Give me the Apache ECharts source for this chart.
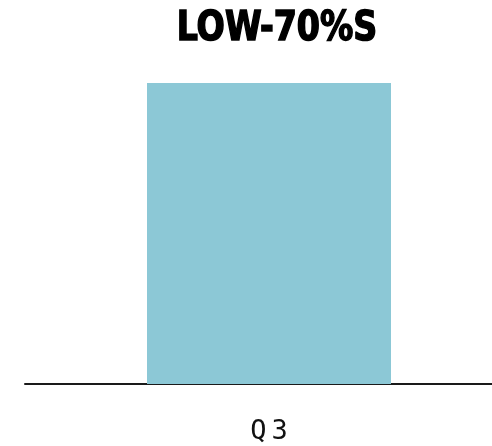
<!DOCTYPE html>
<html>
<head>
<meta charset="utf-8">
<script src="https://cdn.jsdelivr.net/npm/echarts@6/dist/echarts.min.js"></script>
<style>
  html, body { margin: 0; padding: 0; background: #fff; }
  #chart { width: 492px; height: 446px; }
</style>
</head>
<body>
<div id="chart"></div>
<script>
// Single quarter bar with a bold headline
const titleText = 'LOW-70%S';
const categories = ['Q3'];
const values = [72];

const chart = echarts.init(document.getElementById('chart'), null, { renderer: 'canvas' });

chart.setOption({
  animation: false,
  backgroundColor: '#ffffff',
  // Headline drawn as a horizontally condensed, extra-heavy text
  graphic: [{
    type: 'text',
    x: 277,
    y: 29,
    scaleX: 0.84,
    scaleY: 0.94,
    style: {
      text: titleText,
      font: '900 44px "DejaVu Sans Condensed", "DejaVu Sans", sans-serif',
      fill: '#000000',
      stroke: '#000000',
      lineWidth: 1.6,
      align: 'center',
      verticalAlign: 'middle'
    }
  }],
  // plot area runs past the right edge; the axis line is clipped by the canvas
  grid: { left: 25, width: 488, top: 83, bottom: 62, outerBoundsMode: 'none', containLabel: false },
  xAxis: {
    type: 'category',
    data: categories,
    axisLine: { show: true, lineStyle: { color: '#1a1a1a', width: 2 } },
    axisTick: { show: false },
    axisLabel: {
      margin: 34,
      formatter: function (v) {
        return '{a|' + v.charAt(0) + '}{b|' + v.slice(1) + '}';
      },
      rich: {
        a: { fontFamily: '"DejaVu Sans Mono", monospace', fontSize: 27, color: '#111', padding: [0, 5, 0, 0] },
        b: { fontFamily: '"DejaVu Sans Mono", monospace', fontSize: 27, color: '#111' }
      }
    }
  },
  yAxis: {
    type: 'value',
    min: 0,
    max: 'dataMax',
    show: false,
    splitLine: { show: false }
  },
  series: [{
    type: 'bar',
    data: values,
    barWidth: 244,
    itemStyle: { color: '#8cc8d6' }
  }]
});
</script>
</body>
</html>
